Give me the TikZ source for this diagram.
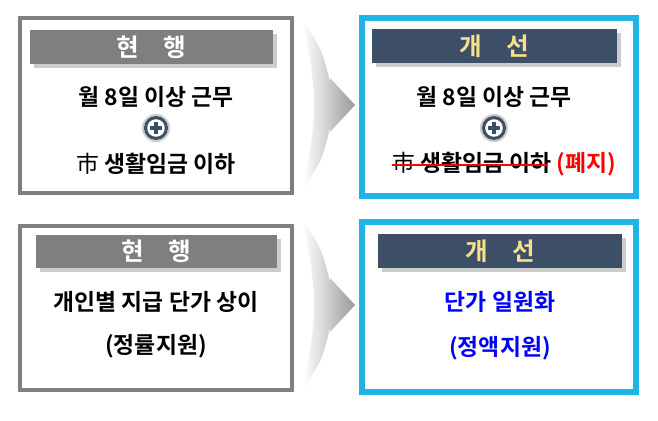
\documentclass[tikz,border=0pt]{standalone}
\usepackage{fontspec}
\newfontfamily\kr{Noto Sans CJK KR}[BoldFont={Noto Sans CJK KR Bold}]
\usetikzlibrary{shadows}
\definecolor{navy}{HTML}{3D4F66}
\definecolor{hdgray}{HTML}{7F7F7F}
\definecolor{frame}{HTML}{7F7F7F}
\definecolor{cyanframe}{HTML}{1EB4E6}
\definecolor{gold}{HTML}{F5E08C}
\tikzset{
  box/.style={draw=frame,line width=2.5pt,fill=white},
  newbox/.style={draw=cyanframe,line width=3pt,fill=white},
  head/.style={fill=hdgray,drop shadow={opacity=.4,shadow xshift=2pt,shadow yshift=-2pt}},
  newhead/.style={fill=navy,drop shadow={opacity=.4,shadow xshift=2pt,shadow yshift=-2pt}},
  txt/.style={font=\kr\bfseries\fontsize{13}{15}\selectfont},
  htxt/.style={font=\kr\bfseries\fontsize{14}{16}\selectfont},
}
\begin{document}
\begin{tikzpicture}[x=0.02cm,y=-0.02cm]
\useasboundingbox (0,0) rectangle (658,421);

% flow arrows
\foreach \dy in {0,200}{
  \shade[left color=white,right color=gray!80]
    (303,20+\dy) .. controls (322,50+\dy) .. (330,82+\dy) -- (330,78+\dy) -- (355,105+\dy)
    -- (330,132+\dy) -- (330,128+\dy) .. controls (322,160+\dy) .. (303,190+\dy)
    .. controls (318,105+\dy) .. (303,20+\dy);
}

% current (top)
\draw[box] (20,18) rectangle (292,193);
\fill[head] (30,30) rectangle (273,64);
\node[htxt,text=white] (hd1) at (151,47) {현\quad 행};
\node[txt] (r1a) at (156,97) {월 8일 이상 근무};
\node[txt] (r1c) at (156,164) {{\mdseries 市} 생활임금 이하};

% improved (top)
\draw[newbox] (362,18) rectangle (636,196);
\fill[newhead] (372,29) rectangle (617,63);
\node[htxt,text=gold] (hd2) at (494,46) {개\quad 선};
\node[txt] (r2a) at (494,97) {월 8일 이상 근무};
\node[txt,anchor=west] (r2c) at (386,164) {{\mdseries 市} 생활임금 이하 \textcolor{red}{(폐지)}};
\draw[red,line width=1.2pt] (392,165) -- (548,165);

% plus icons
\foreach \cx in {156,494}{
  \fill[gray!40] (\cx,128) circle (8pt);
  \fill[navy] (\cx,128) circle (6.8pt);
  \fill[white] (\cx,128) circle (5pt);
  \fill[navy] (\cx-6,126) rectangle (\cx+6,130);
  \fill[navy] (\cx-2,122) rectangle (\cx+2,134);
}

% current (bottom)
\draw[box] (20,226) rectangle (292,390);
\fill[head] (36,235) rectangle (277,268);
\node[htxt,text=white] (hd3) at (156,251) {현\quad 행};
\node[txt] (r3a) at (156,302) {개인별 지급 단가 상이};
\node[txt] (r3b) at (156,346) {(정률지원)};

% improved (bottom)
\draw[newbox] (362,222) rectangle (636,392);
\fill[newhead] (378,234) rectangle (622,268);
\node[htxt,text=gold] (hd4) at (500,251) {개\quad 선};
\node[txt,text=blue] (r4a) at (500,302) {단가 일원화};
\node[txt,text=blue] (r4b) at (500,348) {(정액지원)};
\end{tikzpicture}
\end{document}
